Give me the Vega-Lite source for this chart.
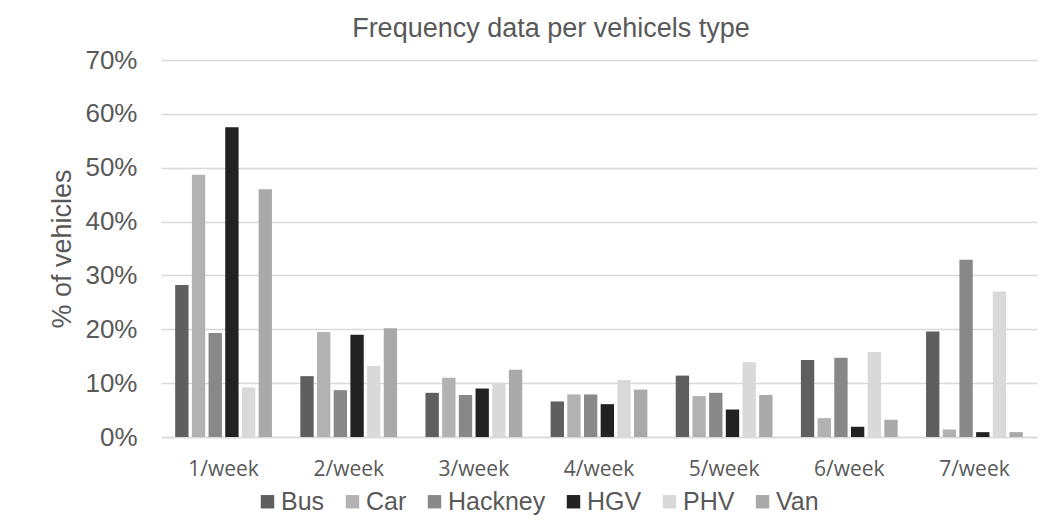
{
  "$schema": "https://vega.github.io/schema/vega-lite/v6.json",
  "width": 876,
  "height": 377,
  "autosize": "none",
  "padding": {"left": 161, "top": 60, "right": 14, "bottom": 89},
  "background": "white",
  "title": {
    "text": "Frequency data per vehicels type",
    "font": "Liberation Sans",
    "fontSize": 27,
    "fontWeight": "normal",
    "color": "#595959",
    "anchor": "middle",
    "dx": -48,
    "offset": 4
  },
  "data": {
    "values": [
      {"freq": "1/week", "type": "Bus", "value": 0.282},
      {"freq": "1/week", "type": "Car", "value": 0.487},
      {"freq": "1/week", "type": "Hackney", "value": 0.193},
      {"freq": "1/week", "type": "HGV", "value": 0.575},
      {"freq": "1/week", "type": "PHV", "value": 0.092},
      {"freq": "1/week", "type": "Van", "value": 0.460},
      {"freq": "2/week", "type": "Bus", "value": 0.113},
      {"freq": "2/week", "type": "Car", "value": 0.195},
      {"freq": "2/week", "type": "Hackney", "value": 0.087},
      {"freq": "2/week", "type": "HGV", "value": 0.190},
      {"freq": "2/week", "type": "PHV", "value": 0.132},
      {"freq": "2/week", "type": "Van", "value": 0.202},
      {"freq": "3/week", "type": "Bus", "value": 0.082},
      {"freq": "3/week", "type": "Car", "value": 0.110},
      {"freq": "3/week", "type": "Hackney", "value": 0.078},
      {"freq": "3/week", "type": "HGV", "value": 0.090},
      {"freq": "3/week", "type": "PHV", "value": 0.100},
      {"freq": "3/week", "type": "Van", "value": 0.125},
      {"freq": "4/week", "type": "Bus", "value": 0.066},
      {"freq": "4/week", "type": "Car", "value": 0.079},
      {"freq": "4/week", "type": "Hackney", "value": 0.079},
      {"freq": "4/week", "type": "HGV", "value": 0.061},
      {"freq": "4/week", "type": "PHV", "value": 0.106},
      {"freq": "4/week", "type": "Van", "value": 0.088},
      {"freq": "5/week", "type": "Bus", "value": 0.114},
      {"freq": "5/week", "type": "Car", "value": 0.076},
      {"freq": "5/week", "type": "Hackney", "value": 0.082},
      {"freq": "5/week", "type": "HGV", "value": 0.051},
      {"freq": "5/week", "type": "PHV", "value": 0.139},
      {"freq": "5/week", "type": "Van", "value": 0.078},
      {"freq": "6/week", "type": "Bus", "value": 0.143},
      {"freq": "6/week", "type": "Car", "value": 0.035},
      {"freq": "6/week", "type": "Hackney", "value": 0.147},
      {"freq": "6/week", "type": "HGV", "value": 0.019},
      {"freq": "6/week", "type": "PHV", "value": 0.158},
      {"freq": "6/week", "type": "Van", "value": 0.032},
      {"freq": "7/week", "type": "Bus", "value": 0.196},
      {"freq": "7/week", "type": "Car", "value": 0.014},
      {"freq": "7/week", "type": "Hackney", "value": 0.329},
      {"freq": "7/week", "type": "HGV", "value": 0.009},
      {"freq": "7/week", "type": "PHV", "value": 0.270},
      {"freq": "7/week", "type": "Van", "value": 0.009}
    ]
  },
  "mark": {"type": "bar"},
  "encoding": {
    "x": {
      "field": "freq",
      "type": "nominal",
      "sort": ["1/week", "2/week", "3/week", "4/week", "5/week", "6/week", "7/week"],
      "scale": {"paddingInner": 0.2, "paddingOuter": 0.1},
      "axis": {
        "title": null,
        "labelAngle": 0,
        "domain": true,
        "domainColor": "#d9d9d9",
        "domainWidth": 1.3,
        "ticks": false,
        "grid": false,
        "labelPadding": 21,
        "labelFont": "Open Sans",
        "labelFontSize": 21,
        "labelColor": "#595959"
      }
    },
    "xOffset": {
      "field": "type",
      "type": "nominal",
      "sort": ["Bus", "Car", "Hackney", "HGV", "PHV", "Van"],
      "scale": {"paddingInner": 0.2, "paddingOuter": 0.1}
    },
    "y": {
      "field": "value",
      "type": "quantitative",
      "scale": {"domain": [0, 0.7], "nice": false},
      "axis": {
        "title": "% of vehicles",
        "format": ".0%",
        "values": [0, 0.1, 0.2, 0.3, 0.4, 0.5, 0.6, 0.7],
        "grid": true,
        "gridColor": "#d9d9d9",
        "gridWidth": 1.3,
        "domain": false,
        "ticks": false,
        "labelPadding": 24,
        "labelFont": "Liberation Sans",
        "labelFontSize": 26,
        "labelColor": "#595959",
        "titleFont": "Liberation Sans",
        "titleFontSize": 27,
        "titleFontWeight": "normal",
        "titleColor": "#595959",
        "titlePadding": 8
      }
    },
    "color": {
      "field": "type",
      "type": "nominal",
      "scale": {
        "domain": ["Bus", "Car", "Hackney", "HGV", "PHV", "Van"],
        "range": ["#5f5f5f", "#b2b2b2", "#888888", "#222222", "#d9d9d9", "#a9a9a9"]
      },
      "legend": {
        "title": null,
        "orient": "none",
        "legendX": 94,
        "legendY": 429,
        "direction": "horizontal",
        "symbolType": "square",
        "symbolSize": 180,
        "symbolStrokeWidth": 0,
        "labelFont": "Liberation Sans",
        "labelFontSize": 25,
        "labelColor": "#595959",
        "labelOffset": 1,
        "columnPadding": 15
      }
    }
  },
  "config": {"view": {"stroke": null}}
}
